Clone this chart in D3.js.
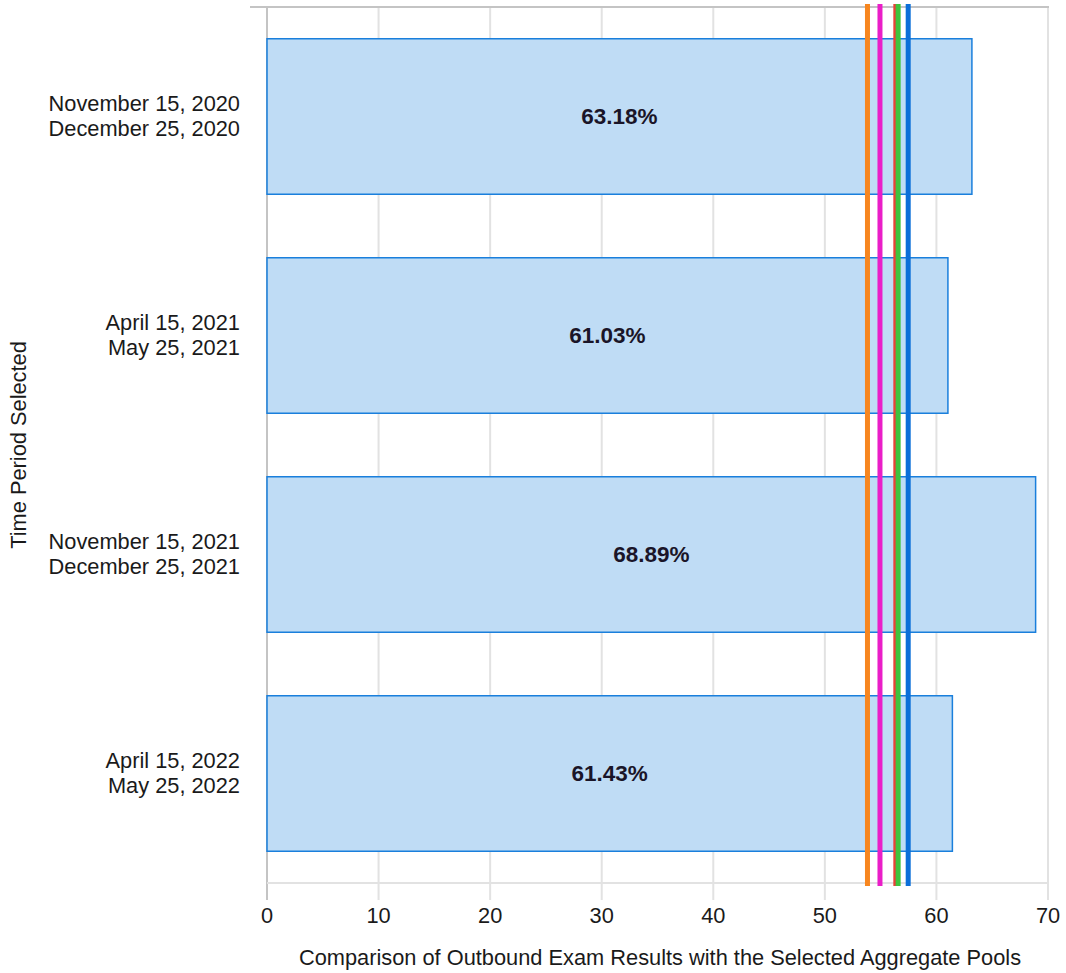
<!DOCTYPE html>
<html>
<head>
<meta charset="utf-8">
<script src="https://cdn.jsdelivr.net/npm/d3@7"></script>
<style>
  body { margin: 0; background: #fff; }
  text { font-family: "Liberation Sans", Arial, sans-serif; }
</style>
</head>
<body>
<svg id="chart" width="1066" height="973"></svg>
<script>
// chart data
const periods = [
  ["November 15, 2020", "December 25, 2020"],
  ["April 15, 2021", "May 25, 2021"],
  ["November 15, 2021", "December 25, 2021"],
  ["April 15, 2022", "May 25, 2022"]
];
const scores = [63.18, 61.03, 68.89, 61.43];
const poolValues = [53.82, 54.94, 56.36, 56.57, 57.47];
const poolColors = ["#f7861f", "#ea1ec8", "#e8413a", "#3ec43e", "#0b6fd9"];
const xTicks = [0, 10, 20, 30, 40, 50, 60, 70];

const svg = d3.select("#chart");
const plotLeft = 267, plotRight = 1048, plotTop = 7, plotBottom = 883;

const x = d3.scaleLinear().domain([0, 70]).range([plotLeft, plotRight]);
const y = d3.scaleBand().domain(d3.range(periods.length)).range([plotTop, plotBottom])
  .paddingInner(0.29).paddingOuter(0.145);

// grid
svg.append("g").selectAll("line").data(xTicks).join("line")
  .attr("x1", d => x(d)).attr("x2", d => x(d))
  .attr("y1", plotTop).attr("y2", plotBottom + 17)
  .attr("stroke", d => d === 0 ? "#c4c4c4" : "#e2e2e2").attr("stroke-width", 2);
svg.append("line").attr("x1", 250).attr("x2", plotRight + 1).attr("y1", plotTop).attr("y2", plotTop)
  .attr("stroke", "#c4c4c4").attr("stroke-width", 2);
svg.append("line").attr("x1", plotLeft).attr("x2", plotRight + 1).attr("y1", plotBottom).attr("y2", plotBottom)
  .attr("stroke", "#e2e2e2").attr("stroke-width", 2);

// bars
svg.append("g").selectAll("rect").data(scores).join("rect")
  .attr("x", x(0)).attr("y", (d, i) => y(i))
  .attr("width", d => x(d) - x(0)).attr("height", y.bandwidth())
  .attr("fill", "#bfdcf5").attr("stroke", "#1a7fdc").attr("stroke-width", 1.5);

svg.append("g").selectAll("text").data(scores).join("text")
  .attr("x", d => (x(0) + x(d)) / 2).attr("y", (d, i) => y(i) + y.bandwidth() / 2)
  .attr("dy", "0.35em").attr("text-anchor", "middle")
  .attr("font-size", 22.5).attr("font-weight", "bold").attr("fill", "#1a1528")
  .text(d => d.toFixed(2) + "%");

// pool lines
svg.append("g").selectAll("line").data(poolValues).join("line")
  .attr("x1", d => x(d)).attr("x2", d => x(d))
  .attr("y1", 4).attr("y2", 886)
  .attr("stroke", (d, i) => poolColors[i]).attr("stroke-width", 5);

// y labels
const yl = svg.append("g").selectAll("text").data(periods).join("text")
  .attr("text-anchor", "end").attr("font-size", 21.8).attr("fill", "#1a1a1a");
yl.each(function (d, i) {
  const cy = y(i) + y.bandwidth() / 2;
  d3.select(this).selectAll("tspan").data(d).join("tspan")
    .attr("x", 240).attr("y", (t, j) => cy - 6 + j * 25.5)
    .text(t => t);
});

// x tick labels
svg.append("g").selectAll("text").data(xTicks).join("text")
  .attr("x", d => x(d)).attr("y", 923).attr("text-anchor", "middle")
  .attr("font-size", 21.8).attr("fill", "#1a1a1a").text(d => d);

// axis titles
svg.append("text").attr("x", 660).attr("y", 965).attr("text-anchor", "middle")
  .attr("font-size", 21.8).attr("fill", "#1a1a1a")
  .text("Comparison of Outbound Exam Results with the Selected Aggregate Pools");
svg.append("text").attr("transform", "translate(26," + ((plotTop + plotBottom) / 2) + ") rotate(-90)")
  .attr("text-anchor", "middle").attr("font-size", 21.8).attr("fill", "#1a1a1a")
  .text("Time Period Selected");
</script>
</body>
</html>
